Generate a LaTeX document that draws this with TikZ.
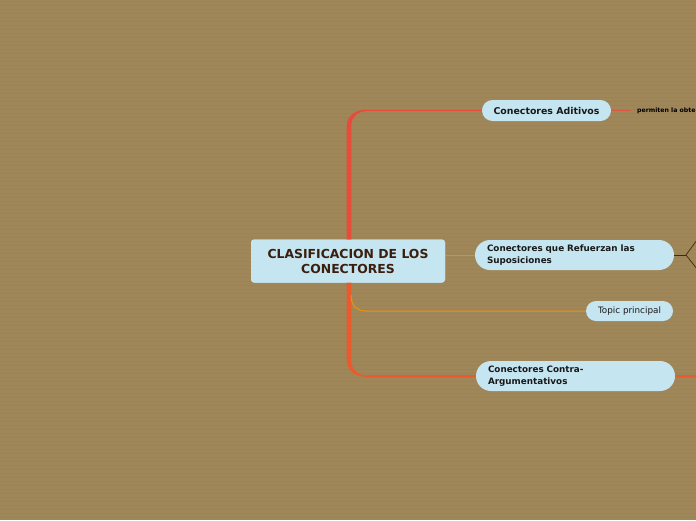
\documentclass[tikz,border=0pt]{standalone}
\usepackage{fontspec}
\setmainfont{DejaVu Sans}
\usetikzlibrary{calc}
\definecolor{bg}{RGB}{160,135,90}
\definecolor{stripe}{RGB}{155,131,87}
\definecolor{nodefill}{RGB}{197,229,241}
\definecolor{cA}{RGB}{232,75,58}
\definecolor{cB}{RGB}{234,90,44}
\definecolor{cT}{RGB}{240,144,10}
\definecolor{cR}{RGB}{214,146,40}
\definecolor{cDark}{RGB}{60,42,20}
\definecolor{ctext}{RGB}{58,30,14}
\tikzset{
  mainbox/.style={fill=nodefill, rounded corners=3pt, minimum width=194pt, minimum height=43pt,
    inner sep=0pt, align=center, font=\bfseries\fontsize{12.4}{15}\selectfont, text=ctext},
  pillbox/.style={fill=nodefill, inner sep=0pt, text=black!90},
  twoline/.style={pillbox, rounded corners=15pt, minimum width=199pt, minimum height=30pt,
    text width=175pt, align=left, font=\bfseries\fontsize{8.8}{11.5}\selectfont},
}
\begin{document}
\begin{tikzpicture}[x=1pt,y=-1pt]
\useasboundingbox (0,0) rectangle (696,520);
\clip (0,0) rectangle (696,520);
\fill[bg] (0,0) rectangle (696,520);
\foreach \yy in {1,5,...,520} { \draw[stripe, line width=1pt] (0,\yy) -- (696,\yy); }

% nodes
\node[mainbox] (center) at (348,261) {CLASIFICACION DE LOS\\CONECTORES};
\node[pillbox, rounded corners=10.5pt, minimum width=129pt, minimum height=21pt,
  font=\bfseries\fontsize{9.4}{11}\selectfont] (aditivos) at (546.5,110.5) {Conectores Aditivos};
\node[twoline] (refuerzan) at (574.5,255) {Conectores que Refuerzan las\\Suposiciones};
\node[pillbox, rounded corners=10pt, minimum width=87pt, minimum height=20pt,
  font=\fontsize{8.8}{10}\selectfont] (topic) at (629.5,311) {Topic principal};
\node[twoline] (contra) at (575.5,376) {Conectores Contra-\\Argumentativos};
\node[anchor=west, inner sep=0pt, font=\bfseries\fontsize{6.2}{7}\selectfont, text=black] (perm) at (637,110.5) {permiten la obtención};

\coordinate (trunk) at (349,260);
\coordinate (fork) at (686,255);
\coordinate (forkup) at (697,240);
\coordinate (forkdn) at (697,269);
\coordinate (contraend) at (697,376);

% upper branch (tapered)
\fill[cA] ($(trunk)+(-2.3,0)$) -- ($(trunk |- aditivos)+(-2.3,16)$)
  .. controls +(0,-12) and +(-9,0) .. ($(trunk |- aditivos)+(17,-0.8)$)
  -- ($(trunk |- aditivos)+(17,0.8)$)
  .. controls +(-8,0) and +(0,-10) .. ($(trunk |- aditivos)+(2.3,16)$)
  -- ($(trunk)+(2.3,0)$) -- cycle;
\draw[cA, line width=1.4pt] ($(trunk |- aditivos)+(17,0)$) -- (aditivos.west);
\draw[cA!80!bg, line width=1.2pt] (aditivos.east) -- ($(perm.west)+(-6,0)$);

% lower branch (tapered)
\fill[cB] ($(trunk)+(-2.3,0)$) -- ($(trunk |- contra)+(-2.3,-16)$)
  .. controls +(0,12) and +(-9,0) .. ($(trunk |- contra)+(17,0.8)$)
  -- ($(trunk |- contra)+(17,-0.8)$)
  .. controls +(-8,0) and +(0,10) .. ($(trunk |- contra)+(2.3,-16)$)
  -- ($(trunk)+(2.3,0)$) -- cycle;
\draw[cB, line width=1.4pt] ($(trunk |- contra)+(17,0)$) -- (contra.west);
\draw[cB, line width=1.2pt] (contra.east) -- (contraend);

% topic principal
\draw[cT, line width=1pt] ($(trunk |- topic)+(2,-16)$)
  .. controls +(0,11) and +(-9,0) .. ($(trunk |- topic)+(17,0)$) -- (topic.west);

% refuerzan
\draw[cR, line width=0.8pt] (center.east |- refuerzan) -- (refuerzan.west);
\draw[cDark, line width=1pt] (refuerzan.east) -- (fork);
\draw[cDark, line width=0.7pt] (forkup) -- (fork) -- (forkdn);

% redraw center node on top
\node[mainbox] at (center) {CLASIFICACION DE LOS\\CONECTORES};
\end{tikzpicture}
\end{document}
